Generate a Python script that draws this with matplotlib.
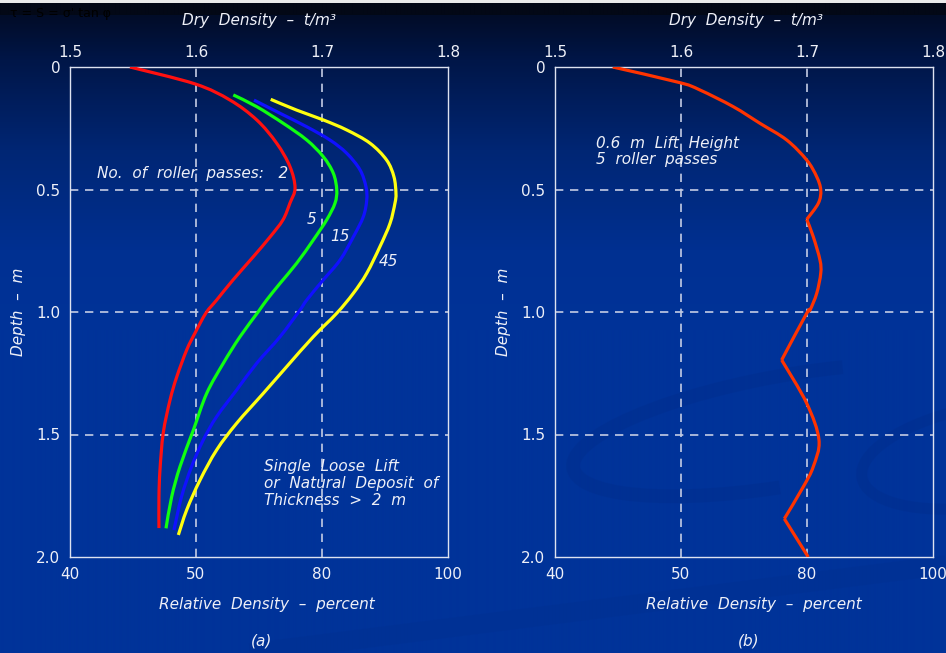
import numpy as np
import matplotlib
matplotlib.use("Agg")
import matplotlib.pyplot as plt
from matplotlib.patches import Arc, PathPatch
from matplotlib.path import Path

# roller compaction profiles: dry density (t/m^3) against depth (m)
red_density = [1.5476, 1.5992, 1.627, 1.6482, 1.664, 1.6746, 1.6786, 1.6746, 1.669, 1.6587,
               1.6452, 1.6294, 1.6164, 1.6079, 1.5992, 1.5926, 1.5847, 1.5794, 1.574, 1.5714,
               1.5706, 1.5706]
red_depth = [0.0, 0.069, 0.135, 0.216, 0.311, 0.407, 0.494, 0.555, 0.624, 0.694,
             0.776, 0.869, 0.951, 1.004, 1.086, 1.155, 1.265, 1.359, 1.494, 1.645,
             1.755, 1.882]

green_density = [1.6296, 1.6482, 1.6693, 1.6879, 1.701, 1.709, 1.7117, 1.7103, 1.7037, 1.6931,
                 1.6799, 1.6667, 1.6561, 1.6494, 1.6349, 1.6217, 1.6085, 1.5979, 1.5873, 1.5807,
                 1.5762]
green_depth = [0.114, 0.162, 0.230, 0.298, 0.366, 0.434, 0.502, 0.556, 0.624, 0.706,
               0.801, 0.883, 0.951, 0.999, 1.101, 1.209, 1.332, 1.482, 1.631, 1.754,
               1.883]

blue_density = [1.646, 1.6667, 1.6879, 1.7063, 1.7196, 1.7302, 1.7349, 1.7355, 1.7328, 1.7249,
                1.7143, 1.701, 1.6879, 1.6825, 1.6667, 1.6482, 1.6323, 1.6164, 1.6058, 1.5965,
                1.5885, 1.5825]
blue_depth = [0.135, 0.189, 0.244, 0.298, 0.352, 0.420, 0.489, 0.543, 0.611, 0.693,
              0.788, 0.869, 0.951, 0.992, 1.101, 1.209, 1.318, 1.427, 1.522, 1.631,
              1.754, 1.890]

yellow_density = [1.6593, 1.6799, 1.701, 1.7196, 1.7381, 1.7513, 1.7571, 1.7587, 1.7579, 1.754,
                  1.746, 1.7355, 1.7248, 1.7117, 1.6931, 1.672, 1.6534, 1.6323, 1.6164, 1.6032,
                  1.5926, 1.586]
yellow_depth = [0.132, 0.176, 0.216, 0.257, 0.311, 0.380, 0.448, 0.516, 0.556, 0.638,
                0.733, 0.842, 0.924, 1.005, 1.101, 1.223, 1.332, 1.454, 1.563, 1.686,
                1.808, 1.910]

# 0.6 m lifts, 5 passes each; the profile kinks at each lift boundary
lift_density = [1.5458, 1.5992, 1.6151, 1.6415, 1.6627, 1.6839, 1.6998, 1.7077, 1.7109, 1.709,
                1.6998, 1.705, 1.7103, 1.7109, 1.7077, 1.7024, 1.6998, 1.6799, 1.6998, 1.7095,
                1.705, 1.6971, 1.682, 1.701]
lift_depth = [0.0, 0.064, 0.094, 0.162, 0.230, 0.298, 0.380, 0.448, 0.502, 0.556,
              0.622, 0.693, 0.788, 0.842, 0.924, 0.992, 1.005, 1.196, 1.373, 1.522,
              1.631, 1.713, 1.844, 2.0]
lift_kinks = [10, 17, 22]

pass_labels = ["5", "15", "45"]
pass_label_pos = [(1.692, 0.624), (1.7143, 0.69), (1.7524, 0.792)]

density_ticks = [1.5, 1.6, 1.7, 1.8]
density_labels = ["1.5", "1.6", "1.7", "1.8"]
relative_labels = ["40", "50", "80", "100"]
depth_ticks = [0.0, 0.5, 1.0, 1.5, 2.0]
depth_labels = ["0", "0.5", "1.0", "1.5", "2.0"]

TXT = "#eef0f8"
GRID = "#c4cce4"
FS = 11


def smooth_curve(ax, xs, ys, breaks=(), **kw):
    """Draw the points as a chain of cubic Bezier pieces (sharp at breaks)."""
    pts = np.column_stack([xs, ys])
    cuts = [0] + list(breaks) + [len(pts) - 1]
    for a, b in zip(cuts[:-1], cuts[1:]):
        seg = pts[a:b + 1]
        verts = [seg[0]]
        codes = [Path.MOVETO]
        n = len(seg)
        for i in range(n - 1):
            p0 = seg[max(i - 1, 0)]
            p1, p2 = seg[i], seg[i + 1]
            p3 = seg[min(i + 2, n - 1)]
            verts += [p1 + (p2 - p0) / 6, p2 - (p3 - p1) / 6, p2]
            codes += [Path.CURVE4] * 3
        ax.add_patch(PathPatch(Path(verts, codes), fill=False, capstyle="butt",
                               joinstyle="round", **kw))


fig = plt.figure(figsize=(9.46, 6.53), dpi=100)

# background gradient
bg = fig.add_axes([0, 0, 1, 1])
bg.set_zorder(-5)
rows = np.arange(653)
stops_y = [0, 2, 3, 14, 15, 60, 150, 250, 330, 653]
stops_r = [235, 235, 3, 3, 2, 0, 0, 0, 0, 0]
stops_g = [235, 235, 8, 8, 12, 22, 38, 48, 51, 51]
stops_b = [235, 235, 22, 22, 40, 72, 116, 145, 153, 153]
grad = np.stack([np.interp(rows, stops_y, stops_r),
                 np.interp(rows, stops_y, stops_g),
                 np.interp(rows, stops_y, stops_b)], axis=-1)[:, None, :] / 255.0
grad = np.repeat(grad, 4, axis=1)
bg.imshow(grad, aspect="auto", extent=[0, 946, 653, 0], interpolation="bilinear")
# faint swirl decoration
bg.add_patch(Arc((790, 430), 440, 110, angle=-10, theta1=110, theta2=320,
                 color="#002a84", lw=10, alpha=0.25))
bg.add_patch(Arc((990, 455), 260, 100, angle=-10, theta1=110, theta2=250,
                 color="#002a84", lw=8, alpha=0.25))
bg.plot([250, 946], [653, 565], color="#002f8e", lw=14, alpha=0.3, solid_capstyle="butt")
bg.set_xlim(0, 946)
bg.set_ylim(653, 0)
bg.axis("off")
bg.text(10, 13, "τ = S = σ' tan φ", color="black", fontsize=9, va="center")


def setup(ax):
    ax.set_facecolor("none")
    ax.set_xlim(1.5, 1.8)
    ax.set_ylim(2.0, 0.0)
    ax.xaxis.tick_top()
    ax.set_xticks(density_ticks, labels=density_labels)
    ax.set_yticks(depth_ticks, labels=depth_labels)
    ax.tick_params(axis="x", length=0, pad=5, colors=TXT, labelsize=FS)
    ax.tick_params(axis="y", length=0, pad=7, colors=TXT, labelsize=FS)
    for sp in ax.spines.values():
        sp.set_color("#dde2f0")
        sp.set_linewidth(1.0)
    for x in density_ticks[1:-1]:
        ax.axvline(x, color=GRID, lw=1.2, ls=(0, (5, 4)), zorder=1)
    for y in depth_ticks[1:-1]:
        ax.axhline(y, color=GRID, lw=1.2, ls=(0, (5, 4)), zorder=1)
    sec = ax.secondary_xaxis("bottom")
    sec.set_xticks(density_ticks, labels=relative_labels)
    sec.tick_params(length=0, pad=7, colors=TXT, labelsize=FS)
    sec.spines["bottom"].set_visible(False)


axL = fig.add_axes([70 / 946, 96 / 653, 378 / 946, 490 / 653])
axR = fig.add_axes([555 / 946, 96 / 653, 378 / 946, 490 / 653])
setup(axL)
setup(axR)

lw = 2.3
smooth_curve(axL, red_density, red_depth, edgecolor="#ff1010", lw=lw, zorder=3)
smooth_curve(axL, green_density, green_depth, edgecolor="#10ff10", lw=lw, zorder=3)
smooth_curve(axL, blue_density, blue_depth, edgecolor="#1010ff", lw=lw, zorder=3)
smooth_curve(axL, yellow_density, yellow_depth, edgecolor="#ffff10", lw=lw, zorder=3)

axL.text(1.5214, 0.433, "No.  of  roller  passes:   2", color=TXT, fontsize=FS,
         style="italic", va="center")
for lab, (x, y) in zip(pass_labels, pass_label_pos):
    axL.text(x, y, lab, color=TXT, fontsize=FS, style="italic", ha="center", va="center")
axL.text(1.654, 1.6, "Single  Loose  Lift\nor  Natural  Deposit  of\nThickness  >  2  m",
         color=TXT, fontsize=FS, style="italic", va="top", ha="left", linespacing=1.15)

smooth_curve(axR, lift_density, lift_depth, breaks=lift_kinks, edgecolor="#ff3300",
             lw=lw, zorder=3)
axR.text(1.5325, 0.28, "0.6  m  Lift  Height\n5  roller  passes", color=TXT, fontsize=FS,
         style="italic", va="top", ha="left", linespacing=1.15)

for cx, tag in [(259, "(a)"), (746, "(b)")]:
    fig.text(cx / 946, 1 - 21 / 653, "Dry  Density  –  t/m³", color=TXT, fontsize=FS,
             style="italic", ha="center", va="center")
    fig.text((cx + 8) / 946, 1 - 605 / 653, "Relative  Density  –  percent", color=TXT,
             fontsize=FS, style="italic", ha="center", va="center")
    fig.text((cx + 3) / 946, 1 - 641 / 653, tag, color=TXT, fontsize=FS, style="italic",
             ha="center", va="center")
for x in (18, 503):
    fig.text(x / 946, 1 - 312 / 653, "Depth  –  m", color=TXT, fontsize=FS, style="italic",
             rotation=90, ha="center", va="center")

fig.savefig("out.png", dpi=100)
